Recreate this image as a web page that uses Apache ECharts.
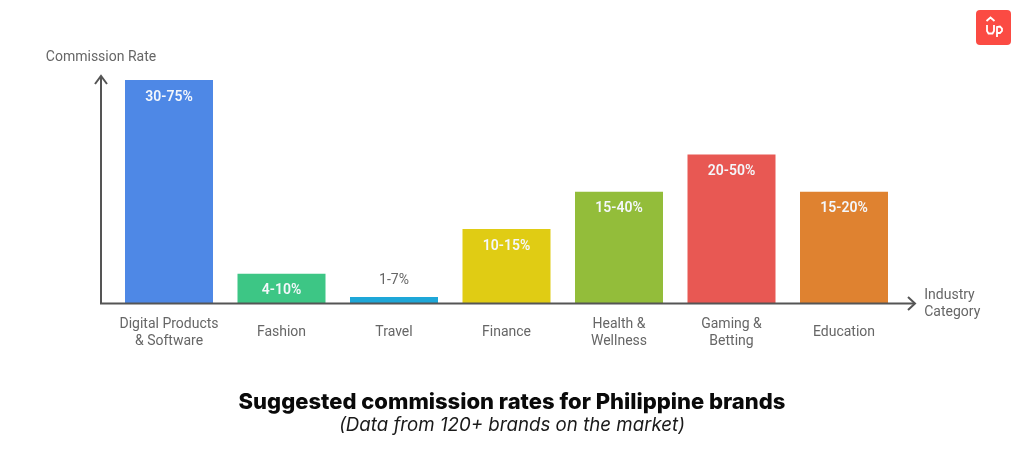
<!DOCTYPE html>
<html lang="en" style="height: 100%">

<head>
  <meta charset="utf-8">
</head>

<body style="height: 100%; margin: 0; background: #fff">
  <div id="container" style="width: 1024px; height: 450px"></div>

  <script type="text/javascript" src="https://cdn.jsdelivr.net/npm/echarts@6/dist/echarts.min.js"></script>
  <script type="text/javascript">
    // categories and bar values, heights (first bar = 75)
    const categories = ['Digital Products\n& Software', 'Fashion', 'Travel', 'Finance', 'Health &\nWellness', 'Gaming &\nBetting', 'Education'];
    const barValues = [75, 10, 2.2, 25, 37.5, 50, 37.5];
    const rateLabels = ['30-75%', '4-10%', '1-7%', '10-15%', '15-40%', '20-50%', '15-20%'];
    const barColors = ['#4e88e6', '#3dc685', '#1ea7d8', '#e0cc14', '#93bd3a', '#e85853', '#df8230'];

    const axisColor = '#555555';
    const textColor = '#666666';
    const uiFont = 'Roboto';
    const titleFont = 'Inter';

    const myChart = echarts.init(document.getElementById('container'), null, { renderer: 'canvas' });

    // the arrows run past the plot area, so they are drawn as plain lines
    function strokeLine(points, color, width) {
      return {
        type: 'polyline',
        z: 10,
        shape: { points: points },
        style: { stroke: color, lineWidth: width, fill: null }
      };
    }

    const option = {
      animation: false,
      backgroundColor: '#ffffff',
      title: [
        {
          text: 'Suggested commission rates for Philippine brands',
          left: 'center',
          top: 386,
          textStyle: { fontFamily: titleFont, fontSize: 22, fontWeight: 800, color: '#0a0a0a' }
        },
        {
          text: '(Data from 120+ brands on the market)',
          left: 'center',
          top: 411,
          textStyle: { fontFamily: titleFont, fontSize: 18.7, fontWeight: 400, fontStyle: 'italic', color: '#1a1a1a' }
        }
      ],
      grid: { left: 112.75, top: 80, width: 787.5, height: 223.5 },
      xAxis: {
        type: 'category',
        data: categories,
        name: 'Industry\nCategory',
        nameLocation: 'end',
        nameGap: 24,
        nameTextStyle: { fontFamily: uiFont, fontSize: 14, lineHeight: 17, color: textColor, align: 'left', verticalAlign: 'middle', padding: [1, 0, 0, 0] },
        axisLine: { show: false },
        axisTick: { show: false },
        axisLabel: { fontFamily: uiFont, fontSize: 14, lineHeight: 17, color: textColor, margin: 29, verticalAlign: 'middle', interval: 0 }
      },
      yAxis: {
        type: 'value',
        min: 0,
        max: 75,
        offset: 11.75,
        name: 'Commission Rate',
        nameLocation: 'end',
        nameGap: 23,
        nameTextStyle: { fontFamily: uiFont, fontSize: 14, color: textColor, verticalAlign: 'middle' },
        axisLine: { show: false },
        axisTick: { show: false },
        axisLabel: { show: false },
        splitLine: { show: false }
      },
      series: [
        {
          type: 'bar',
          barWidth: 88,
          data: barValues.map(function (v, i) {
            const small = v < 5;
            return {
              value: v,
              itemStyle: { color: barColors[i] },
              label: {
                show: true,
                formatter: rateLabels[i],
                position: small ? 'top' : 'insideTop',
                distance: small ? 9 : 10,
                fontFamily: uiFont,
                fontSize: 14,
                fontWeight: small ? 400 : 600,
                color: small ? textColor : '#f4f7fb'
              }
            };
          })
        }
      ],
      graphic: [
        strokeLine([[101, 304], [101, 76]], axisColor, 2),
        strokeLine([[95, 84], [101, 76], [107, 84]], axisColor, 2),
        strokeLine([[100, 303.5], [915, 303.5]], axisColor, 2),
        strokeLine([[908, 297], [915, 303.5], [908, 310]], axisColor, 2),
        // logo
        {
          type: 'rect',
          shape: { x: 976, y: 10, width: 35, height: 35, r: 4 },
          style: { fill: '#fb4b43' }
        },
        strokeLine([[986.5, 21], [990.5, 17.5], [994.5, 21]], '#ffffff', 1.8),
        strokeLine([[987, 25], [987, 31], [988.5, 33.5], [992.5, 33.5], [994, 31], [994, 25]], '#ffffff', 1.8),
        strokeLine([[997, 37], [997, 27], [1000, 26.5], [1002, 28.5], [1002, 31], [1000, 33], [997, 33]], '#ffffff', 1.8)
      ]
    };

    myChart.setOption(option);
    window.addEventListener('resize', myChart.resize);
  </script>
</body>

</html>
